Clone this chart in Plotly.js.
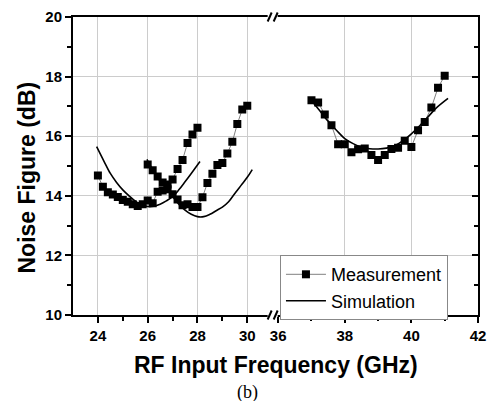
<!DOCTYPE html>
<html><head><meta charset="utf-8">
<script src="https://cdn.plot.ly/plotly-3.0.1.min.js"></script>
<style>html,body{margin:0;padding:0;background:#fff}#nfChart{width:494px;height:401px}</style>
</head><body><div id="nfChart"></div>
<script>
// Measurement data (GHz, dB)
const freqMeasLow1 = [24.0,24.2,24.4,24.6,24.8,25.0,25.2,25.4,25.6,25.8,26.0,26.2,26.4,26.6,26.8,27.0,27.2,27.4,27.6,27.8,28.0];
const nfMeasLow1   = [14.68,14.30,14.12,14.04,13.96,13.86,13.80,13.72,13.66,13.72,13.84,13.75,14.14,14.18,14.38,14.55,14.90,15.20,15.77,16.06,16.28];
const freqMeasLow2 = [26.0,26.2,26.4,26.6,26.8,27.0,27.2,27.4,27.6,27.8,28.0,28.2,28.4,28.6,28.8,29.0,29.2,29.4,29.6,29.8,30.0];
const nfMeasLow2   = [15.05,14.86,14.65,14.45,14.22,14.05,13.88,13.68,13.72,13.62,13.62,13.95,14.43,14.74,15.03,15.10,15.42,15.81,16.41,16.90,17.02];
const freqMeasHigh = [37.0,37.2,37.4,37.6,37.8,38.0,38.2,38.4,38.6,38.8,39.0,39.2,39.4,39.6,39.8,40.0,40.2,40.4,40.6,40.8,41.0];
const nfMeasHigh   = [17.21,17.13,16.73,16.37,15.73,15.73,15.46,15.56,15.59,15.37,15.20,15.37,15.57,15.61,15.85,15.64,16.20,16.48,16.96,17.63,18.03];
// Simulation data
const freqSimLow1 = [23.95,24.25,24.5,24.75,25.0,25.25,25.5,25.75,26.0,26.25,26.5,26.75,27.0,27.25,27.5,27.75,28.1];
const nfSimLow1   = [15.65,15.15,14.75,14.45,14.20,14.00,13.82,13.70,13.64,13.65,13.72,13.83,13.97,14.20,14.47,14.75,15.15];
const freqSimLow2 = [25.97,26.25,26.5,26.75,27.0,27.25,27.5,27.75,28.0,28.25,28.5,28.75,29.0,29.25,29.5,29.75,30.0,30.2];
const nfSimLow2   = [15.22,14.80,14.50,14.25,13.98,13.72,13.52,13.38,13.30,13.30,13.38,13.50,13.62,13.80,14.08,14.35,14.62,14.88];
const freqSimHigh = [37.0,37.25,37.5,37.75,38.0,38.25,38.5,38.75,39.0,39.25,39.5,39.75,40.0,40.25,40.5,40.75,41.1];
const nfSimHigh   = [17.20,16.85,16.50,16.20,15.92,15.75,15.63,15.58,15.57,15.60,15.68,15.85,16.08,16.35,16.65,16.95,17.27];
// Axis ticks
const lowTicks = [24,26,28,30], lowMinorTicks = [25,27,29];
const highTicks = [36,38,40,42], highMinorTicks = [37,39,41], highGridVals = [38,40];
const nfTicks = [10,12,14,16,18,20], nfMinorTicks = [11,13,15,17,19];

const SPLIT = 0.493;
const LOW_RANGE = [23, 31.02], HIGH_RANGE = [35.835, 42], NF_RANGE = [10, 20];
const FAM = 'Liberation Sans, Arial, sans-serif';
const tickFont = {family:FAM, size:15, color:'#000'};
const boldText = v => v.map(t => '<b>' + t + '</b>');
const measLine = {color:'#808080', width:1};
const measMarker = {symbol:'square', size:8, color:'#000'};
const simLine = {color:'#000', width:1.6, shape:'spline'};

const data = [
  {x: freqMeasLow1.concat([null], freqMeasLow2), y: nfMeasLow1.concat([null], nfMeasLow2), xaxis:'x', yaxis:'y',
   mode:'lines+markers', line:measLine, marker:measMarker, name:'Measurement', legendgroup:'m', connectgaps:false},
  {x: freqMeasHigh, y: nfMeasHigh, xaxis:'x2', yaxis:'y2', mode:'lines+markers', line:measLine, marker:measMarker,
   name:'Measurement', legendgroup:'m', showlegend:false},
  {x: freqSimLow1.concat([null], freqSimLow2), y: nfSimLow1.concat([null], nfSimLow2), xaxis:'x', yaxis:'y',
   mode:'lines', line:simLine, name:'Simulation', legendgroup:'s', connectgaps:false},
  {x: freqSimHigh, y: nfSimHigh, xaxis:'x2', yaxis:'y2', mode:'lines', line:simLine, name:'Simulation', legendgroup:'s', showlegend:false},
  // helper (no visible point) so the grid-only overlay axis is drawn
  {x:[null], y:[null], xaxis:'x3', yaxis:'y2', mode:'lines', showlegend:false, hoverinfo:'skip'}
];

function freqAxis(domain, range, major, minor, anchor, grid){
  return {
    domain: domain, range: range, anchor: anchor, tickmode:'array', tickvals: major, ticktext: boldText(major),
    ticks:'outside', ticklen:6, tickwidth:1.5, tickcolor:'#000',
    showline:true, mirror:true, linecolor:'#000', linewidth:2, zeroline:false,
    showgrid:grid, gridcolor:'#cccccc', gridwidth:1, tickfont: tickFont,
    minor:{tickmode:'array', tickvals: minor, ticks:'outside', ticklen:4, tickwidth:1.5, tickcolor:'#000', showgrid:false},
    fixedrange:true
  };
}

const layout = {
  width:494, height:401,
  margin:{l:73, r:16, t:17, b:86},
  paper_bgcolor:'#fff', plot_bgcolor:'#fff',
  showlegend:true,
  xaxis: freqAxis([0,SPLIT], LOW_RANGE, lowTicks, lowMinorTicks, 'y', true),
  xaxis2: freqAxis([SPLIT,1], HIGH_RANGE, highTicks, highMinorTicks, 'y2', false),
  xaxis3: {range:HIGH_RANGE, anchor:'y2', overlaying:'x2', tickmode:'array', tickvals:highGridVals,
    showgrid:true, gridcolor:'#cccccc', gridwidth:1, ticks:'', showticklabels:false, showline:false, zeroline:false, fixedrange:true},
  yaxis: {domain:[0,1], range:NF_RANGE, anchor:'x', side:'left', tickmode:'array', tickvals:nfTicks, ticktext:boldText(nfTicks),
    ticks:'outside', ticklen:6, tickwidth:1.5, tickcolor:'#000',
    showline:true, linecolor:'#000', linewidth:2, zeroline:false,
    showgrid:true, gridcolor:'#cccccc', gridwidth:1, tickfont:tickFont,
    minor:{tickmode:'array', tickvals:nfMinorTicks, ticks:'outside', ticklen:4, tickwidth:1.5, tickcolor:'#000', showgrid:false},
    fixedrange:true},
  yaxis2: {domain:[0,1], range:NF_RANGE, anchor:'x2', side:'right', tickmode:'array', tickvals:nfTicks,
    ticks:'inside', ticklen:6, tickwidth:1.5, tickcolor:'#000', showticklabels:false,
    showline:true, linecolor:'#000', linewidth:2, zeroline:false,
    showgrid:true, gridcolor:'#cccccc', gridwidth:1,
    minor:{tickmode:'array', tickvals:nfMinorTicks, ticks:'inside', ticklen:4, tickwidth:1.5, tickcolor:'#000', showgrid:false},
    fixedrange:true},
  legend:{x:0.511, y:0.201, xanchor:'left', yanchor:'top', bgcolor:'#fff', bordercolor:'#888', borderwidth:1,
    font:{family:FAM, size:18, color:'#000'}, itemwidth:40, tracegroupgap:0},
  shapes: [],
  annotations: [
    {text:'<b>RF Input Frequency (GHz)</b>', xref:'paper', yref:'paper', x:0.501, y:-0.1676, xanchor:'center', yanchor:'middle',
     showarrow:false, font:{family:FAM, size:23, color:'#000'}},
    {text:'<b>Noise Figure (dB)</b>', xref:'paper', yref:'paper', x:-0.1127, y:0.4626, xanchor:'center', yanchor:'middle',
     textangle:-90, showarrow:false, font:{family:FAM, size:23, color:'#000'}},
    {text:'(b)', xref:'paper', yref:'paper', x:0.43, y:-0.26, xanchor:'center', yanchor:'middle',
     showarrow:false, font:{family:'Liberation Serif, Times New Roman, serif', size:18, color:'#000'}}
  ]
};

// axis-break marks at top and bottom
[0,1].forEach(function(ya){
  layout.shapes.push({type:'rect', layer:'above', xref:'paper', yref:'paper', xsizemode:'pixel', ysizemode:'pixel',
    xanchor:SPLIT, yanchor:ya, x0:-5, x1:5, y0:-2, y1:2, fillcolor:'#fff', line:{width:0}});
  layout.shapes.push({type:'line', layer:'above', xref:'paper', yref:'paper', xsizemode:'pixel', ysizemode:'pixel',
    xanchor:SPLIT, yanchor:ya, x0:-5, x1:-1, y0:-4.5, y1:4.5, line:{color:'#000', width:2}});
  layout.shapes.push({type:'line', layer:'above', xref:'paper', yref:'paper', xsizemode:'pixel', ysizemode:'pixel',
    xanchor:SPLIT, yanchor:ya, x0:1, x1:5, y0:-4.5, y1:4.5, line:{color:'#000', width:2}});
});

Plotly.newPlot('nfChart', data, layout, {displayModeBar:false});
</script>
</body></html>
